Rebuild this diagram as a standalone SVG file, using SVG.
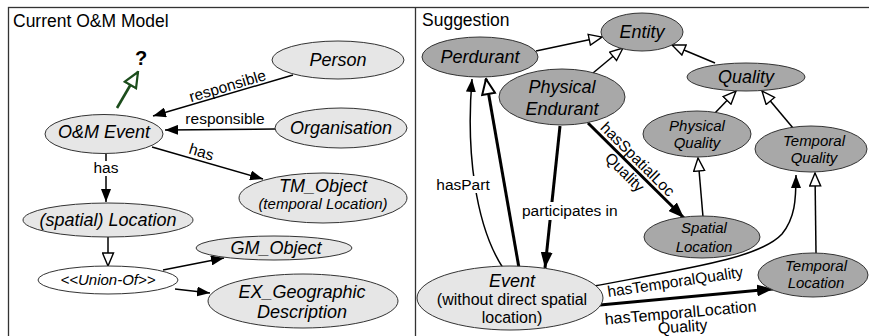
<svg xmlns="http://www.w3.org/2000/svg" width="869" height="336" viewBox="0 0 869 336">
<style>
text{font-family:"Liberation Sans",Arial,sans-serif;fill:#000}
.title{font-size:17.5px}
.n{font-size:18px;font-style:italic;text-anchor:middle}
.ns{font-size:15px;font-style:italic;text-anchor:middle}
.lbl{font-size:15.5px;text-anchor:middle}
.light{fill:#e6e6e6;stroke:#333;stroke-width:1}
.dark{fill:#a8a8a8;stroke:#333;stroke-width:1}
.white{fill:#fff;stroke:#333;stroke-width:1}
.c{fill:none;stroke:#000;stroke-width:1.5}
.ck{fill:none;stroke:#000;stroke-width:3}
</style>
<defs>
<marker id="arr" markerUnits="userSpaceOnUse" viewBox="0 0 13 10" refX="13" refY="5" markerWidth="13" markerHeight="10" orient="auto"><path d="M0,0 L13,5 L0,10 z" fill="#000"/></marker>
<marker id="arrB" markerUnits="userSpaceOnUse" viewBox="0 0 16 12" refX="16" refY="6" markerWidth="16" markerHeight="12" orient="auto"><path d="M0,0 L16,6 L0,12 z" fill="#000"/></marker>
<marker id="tri" markerUnits="userSpaceOnUse" viewBox="-1 -1 15 13" refX="13" refY="5.5" markerWidth="15" markerHeight="13" orient="auto"><path d="M0,0 L13,5.5 L0,11 z" fill="#fff" stroke="#000" stroke-width="1.4"/></marker>
<marker id="triB" markerUnits="userSpaceOnUse" viewBox="-1.5 -1.5 18 16" refX="15" refY="6.5" markerWidth="18" markerHeight="16" orient="auto"><path d="M0,0 L15,6.5 L0,13 z" fill="#fff" stroke="#000" stroke-width="2"/></marker>
<marker id="triG" markerUnits="userSpaceOnUse" viewBox="-1.5 -1.5 18 16" refX="15" refY="6.5" markerWidth="18" markerHeight="16" orient="auto"><path d="M0,0 L15,6.5 L0,13 z" fill="#fff" stroke="#1c4d1c" stroke-width="2.2"/></marker>
</defs>

<g id="frame">
<rect x="8.5" y="7.5" width="870" height="340" fill="#fff" stroke="#333" stroke-width="1.3"/>
<line x1="415.5" y1="7.5" x2="415.5" y2="340" stroke="#333" stroke-width="1.3"/>
<text class="title" x="13" y="27">Current O&amp;M Model</text>
<text class="title" x="422" y="26">Suggestion</text>
</g>

<g id="connectors">
<path class="c" d="M293,75 L153,116" marker-end="url(#arr)"/>
<path class="c" d="M275,129 L165,130" marker-end="url(#arr)"/>
<path class="c" d="M152,147 L263,179" marker-end="url(#arr)"/>
<path class="c" d="M106,154 L106,202" marker-end="url(#arr)"/>
<path class="c" d="M108,237 L108,266" marker-end="url(#tri)"/>
<path class="c" d="M163,270 L224,258" marker-end="url(#arr)"/>
<path class="c" d="M175,289 L210,293" marker-end="url(#arr)"/>
<path d="M117,108 L138,72" fill="none" stroke="#1c4d1c" stroke-width="2.6" marker-end="url(#triG)"/>

<path class="c" d="M536,51 L602,37" marker-end="url(#tri)"/>
<path class="c" d="M593,73 L623,48" marker-end="url(#tri)"/>
<path class="c" d="M715,63 L672,45" marker-end="url(#tri)"/>
<path class="c" d="M715,113 L736,91" marker-end="url(#tri)"/>
<path class="c" d="M793,128 L762,91" marker-end="url(#tri)"/>
<path class="c" d="M703,217 L698,158" marker-end="url(#tri)"/>
<path class="c" d="M816,253 L815,173" marker-end="url(#tri)"/>
<path class="ck" d="M519,268 L486,79" marker-end="url(#triB)"/>
<path class="c" d="M503,268 C475,225 466,150 472,79" marker-end="url(#arr)"/>
<path class="ck" d="M560,126 L545,268" marker-end="url(#arrB)"/>
<path class="ck" d="M588,123 L684,218" marker-end="url(#arrB)"/>
<path class="c" d="M594,286 C690,268 760,258 782,234 C795,218 796,200 796,175" stroke-width="1.8" marker-end="url(#arr)"/>
<path class="ck" d="M600,305 L773,289" marker-end="url(#arrB)"/>
</g>

<g id="labels">
<text class="lbl" x="229" y="91" transform="rotate(-16.5 229 91)">responsible</text>
<text class="lbl" x="225" y="124">responsible</text>
<text class="lbl" x="200" y="157" transform="rotate(17 200 157)">has</text>
<rect x="93" y="161" width="26" height="15" fill="#fff"/>
<text class="lbl" x="106" y="173">has</text>
<text x="141" y="65" style="font-size:20px;font-weight:bold;text-anchor:middle">?</text>
<rect x="436" y="176" width="56" height="17" fill="#fff"/>
<text class="lbl" x="463" y="190">hasPart</text>
<rect x="520" y="202" width="98" height="18" fill="#fff"/>
<text x="522" y="216" style="font-size:15.5px">participates in</text>
<text class="lbl" x="634" y="163" transform="rotate(45 634 163)">hasSpatialLoc</text>
<text class="lbl" x="621" y="176" transform="rotate(45 621 176)">Quality</text>
<text class="lbl" x="676" y="287" transform="rotate(-8.5 676 287)">hasTemporalQuality</text>
<text x="681" y="318" transform="rotate(-5 681 318)" style="font-size:16px;text-anchor:middle">hasTemporalLocation</text>
<text x="683" y="332" transform="rotate(-4 683 332)" style="font-size:16px;text-anchor:middle">Quality</text>
</g>

<g id="person"><ellipse class="light" cx="338" cy="60" rx="66" ry="19"/><text class="n" x="338" y="66">Person</text></g>
<g id="organisation"><ellipse class="light" cx="341" cy="128" rx="66" ry="20"/><text class="n" x="341" y="134">Organisation</text></g>
<g id="om-event"><ellipse class="light" cx="104" cy="134" rx="59" ry="19.5"/><text class="n" x="104" y="138">O&amp;M Event</text></g>
<g id="tm-object"><ellipse class="light" cx="323" cy="198" rx="84" ry="25"/><text class="n" x="323" y="192">TM_Object</text><text class="ns" x="323" y="209">(temporal Location)</text></g>
<g id="spatial-location"><ellipse class="light" cx="108" cy="220" rx="85" ry="17"/><text class="n" x="108" y="226">(spatial) Location</text></g>
<g id="union-of"><ellipse class="white" cx="108" cy="280" rx="70" ry="14"/><text class="ns" x="108" y="285">&lt;&lt;Union-Of&gt;&gt;</text></g>
<g id="gm-object"><ellipse class="light" cx="274" cy="248" rx="78" ry="12"/><text class="n" x="276" y="254">GM_Object</text></g>
<g id="ex-geo"><ellipse class="light" cx="303" cy="301" rx="95" ry="27"/><text class="n" x="302" y="298">EX_Geographic</text><text class="n" x="302" y="318">Description</text></g>

<g id="entity"><ellipse class="dark" cx="642" cy="32" rx="41" ry="19"/><text class="n" x="642" y="38">Entity</text></g>
<g id="perdurant"><ellipse class="dark" cx="480" cy="57" rx="58" ry="20"/><text class="n" x="480" y="63">Perdurant</text></g>
<g id="physical-endurant"><ellipse class="dark" cx="562" cy="97" rx="63" ry="28"/><text class="n" x="562" y="93">Physical</text><text class="n" x="562" y="115">Endurant</text></g>
<g id="quality"><ellipse class="dark" cx="746" cy="77" rx="59" ry="14"/><text class="n" x="746" y="83">Quality</text></g>
<g id="physical-quality"><ellipse class="dark" cx="697" cy="134" rx="54" ry="23"/><text class="ns" x="697" y="131">Physical</text><text class="ns" x="697" y="148">Quality</text></g>
<g id="temporal-quality"><ellipse class="dark" cx="811" cy="149" rx="56" ry="23"/><text class="ns" x="814" y="146">Temporal</text><text class="ns" x="814" y="163">Quality</text></g>
<g id="spatial-location-r"><ellipse class="dark" cx="702" cy="237" rx="58" ry="21"/><text class="ns" x="704" y="233">Spatial</text><text class="ns" x="704" y="252">Location</text></g>
<g id="temporal-location"><ellipse class="dark" cx="813" cy="275" rx="55" ry="22"/><text class="ns" x="816" y="271">Temporal</text><text class="ns" x="816" y="288">Location</text></g>
<g id="event"><ellipse class="light" cx="510" cy="298" rx="93" ry="32"/><text class="n" x="512" y="287">Event</text><text x="512" y="305" style="font-size:16px;text-anchor:middle">(without direct spatial</text><text x="512" y="323" style="font-size:16px;text-anchor:middle">location)</text></g>
</svg>
